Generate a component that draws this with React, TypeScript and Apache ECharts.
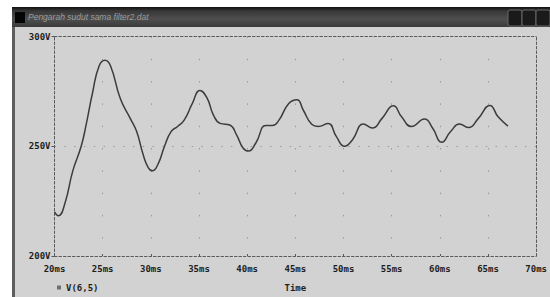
import React, { useEffect, useRef } from "react";
import * as echarts from "echarts";

const TITLE = "Pengarah sudut sama filter2.dat";
const SERIES_NAME = "V(6,5)";
const X_NAME = "Time";
const X_TICKS = [20, 25, 30, 35, 40, 45, 50, 55, 60, 65, 70];
const Y_TICKS = [200, 250, 300];

const times = [
  20.0, 20.4, 21.07, 21.9, 22.77, 23.28, 23.96, 24.63, 25.24, 25.82, 26.84, 27.86,
  28.53, 29.2, 29.73, 30.16, 30.74, 31.42, 32.1, 32.78, 33.46, 34.3, 35.09, 35.83,
  36.5, 37.2, 38.2, 38.9, 39.57, 40.14, 40.9, 41.94, 42.62, 43.3, 44.3, 45.17,
  45.83, 46.7, 47.37, 48.4, 49.25, 50.1, 50.94, 52.06, 53.0, 54.0, 55.18, 56.03,
  57.05, 58.41, 59.26, 60.2, 61.12, 62.04, 63.0, 64.0, 65.2, 66.05, 67.07,
];
const volts = [
  220.1, 218.3, 223.8, 238.8, 250.0, 259.7, 274.6, 286.6, 289.2, 286.6, 271.6, 262.7,
  256.7, 246.2, 240.3, 238.8, 241.8, 250.0, 256.7, 259.0, 261.9, 269.4, 275.4, 272.0,
  264.2, 260.4, 259.7, 255.2, 249.2, 247.8, 251.5, 259.4, 259.4, 261.9, 269.4, 271.2,
  266.4, 260.0, 259.0, 260.4, 254.5, 250.0, 253.0, 260.1, 258.3, 262.7, 268.4, 263.4,
  259.0, 262.4, 258.2, 251.8, 256.7, 260.1, 258.5, 262.7, 268.6, 263.4, 259.2,
];

const FONT = "DejaVu Sans Mono";

export default function App() {
  const ref = useRef<HTMLDivElement>(null);
  useEffect(() => {
    document.body.style.margin = "0";
    const chart = echarts.init(ref.current!, null, { renderer: "svg" });
    const frameLine = { show: true, lineStyle: { color: "#5a5a5a", width: 1, type: [2.5, 2] as any } };
    const labelStyle = { fontFamily: FONT, fontWeight: "bold" as const, fontSize: 9, color: "#1e1e1e" };
    chart.setOption({
      animation: false,
      backgroundColor: "#ffffff",
      graphic: [
        { type: "rect", z: -10, shape: { x: 12, y: 7, width: 538, height: 290 }, style: { fill: "#d2d2d2" } },
        { type: "rect", z: -9, shape: { x: 12, y: 7, width: 3, height: 290 }, style: { fill: "#5e5e5e" } },
        {
          type: "rect", z: -9, shape: { x: 12, y: 7, width: 538, height: 20 },
          style: {
            fill: new echarts.graphic.LinearGradient(0, 0, 0, 1, [
              { offset: 0, color: "#111111" },
              { offset: 0.2, color: "#383838" },
              { offset: 0.6, color: "#4e4e4e" },
              { offset: 1, color: "#3a3a3a" },
            ]),
          },
        },
        { type: "rect", z: -8, shape: { x: 15, y: 12, width: 10, height: 11 }, style: { fill: "#050505" } },
        {
          type: "text", z: -8, x: 28, y: 17,
          style: { text: TITLE, fill: "#9c9c9c", font: "italic 8.5px 'Liberation Sans'", verticalAlign: "middle" },
        },
        { type: "rect", z: -8, shape: { x: 508, y: 10, width: 14, height: 16, r: 2 }, style: { fill: "#1a1a1a", stroke: "#666", lineWidth: 1 } },
        { type: "rect", z: -8, shape: { x: 522, y: 10, width: 14, height: 16, r: 2 }, style: { fill: "#1a1a1a", stroke: "#666", lineWidth: 1 } },
        { type: "rect", z: -8, shape: { x: 536, y: 10, width: 14, height: 16, r: 2 }, style: { fill: "#1a1a1a", stroke: "#666", lineWidth: 1 } },
      ],
      legend: {
        left: 52,
        top: 278,
        itemWidth: 4,
        itemHeight: 4,
        itemGap: 4,
        icon: "rect",
        textStyle: { ...labelStyle, padding: [0, 0, 0, 0] },
        data: [{ name: SERIES_NAME, itemStyle: { color: "#707070" } }],
      },
      grid: { left: 54.5, right: 4.5, top: 36.5, bottom: 37, containLabel: false },
      xAxis: [
        {
          type: "value",
          min: X_TICKS[0],
          max: X_TICKS[X_TICKS.length - 1],
          interval: 5,
          name: X_NAME,
          nameLocation: "middle",
          nameGap: 27,
          nameTextStyle: labelStyle,
          axisLine: frameLine,
          axisTick: { show: true, inside: true, length: 2, lineStyle: { color: "#5a5a5a" } },
          axisLabel: { ...labelStyle, margin: 8, formatter: "{value}ms" },
          splitLine: {
            show: true,
            showMinLine: false,
            showMaxLine: false,
            lineStyle: { color: "#9a9a9a", width: 1, type: [1.5, 20.8] },
          },
        },
        {
          type: "value",
          position: "top",
          min: X_TICKS[0],
          max: X_TICKS[X_TICKS.length - 1],
          interval: 5,
          axisLine: frameLine,
          axisTick: { show: false },
          axisLabel: { show: false },
          splitLine: { show: false },
        },
      ],
      yAxis: [
        {
          type: "value",
          min: Y_TICKS[0],
          max: Y_TICKS[Y_TICKS.length - 1],
          interval: 50,
          axisLine: frameLine,
          axisTick: { show: true, length: 3, lineStyle: { color: "#5a5a5a" } },
          axisLabel: { ...labelStyle, margin: 4, formatter: "{value}V" },
          splitLine: {
            show: true,
            showMinLine: false,
            showMaxLine: false,
            lineStyle: { color: "#9a9a9a", width: 1, type: [1.5, 8.3] },
          },
        },
        {
          type: "value",
          position: "right",
          min: Y_TICKS[0],
          max: Y_TICKS[Y_TICKS.length - 1],
          interval: 50,
          axisLine: frameLine,
          axisTick: { show: false },
          axisLabel: { show: false },
          splitLine: { show: false },
        },
      ],
      series: [
        {
          name: SERIES_NAME,
          type: "line",
          xAxisIndex: 0,
          yAxisIndex: 0,
          smooth: 0.5,
          showSymbol: false,
          lineStyle: { color: "#3c3c3c", width: 1.5 },
          itemStyle: { color: "#707070" },
          data: times.map((t, i) => [t, volts[i]]),
        },
      ],
    });
    return () => chart.dispose();
  }, []);
  return <div ref={ref} style={{ width: 550, height: 297 }} />;
}
